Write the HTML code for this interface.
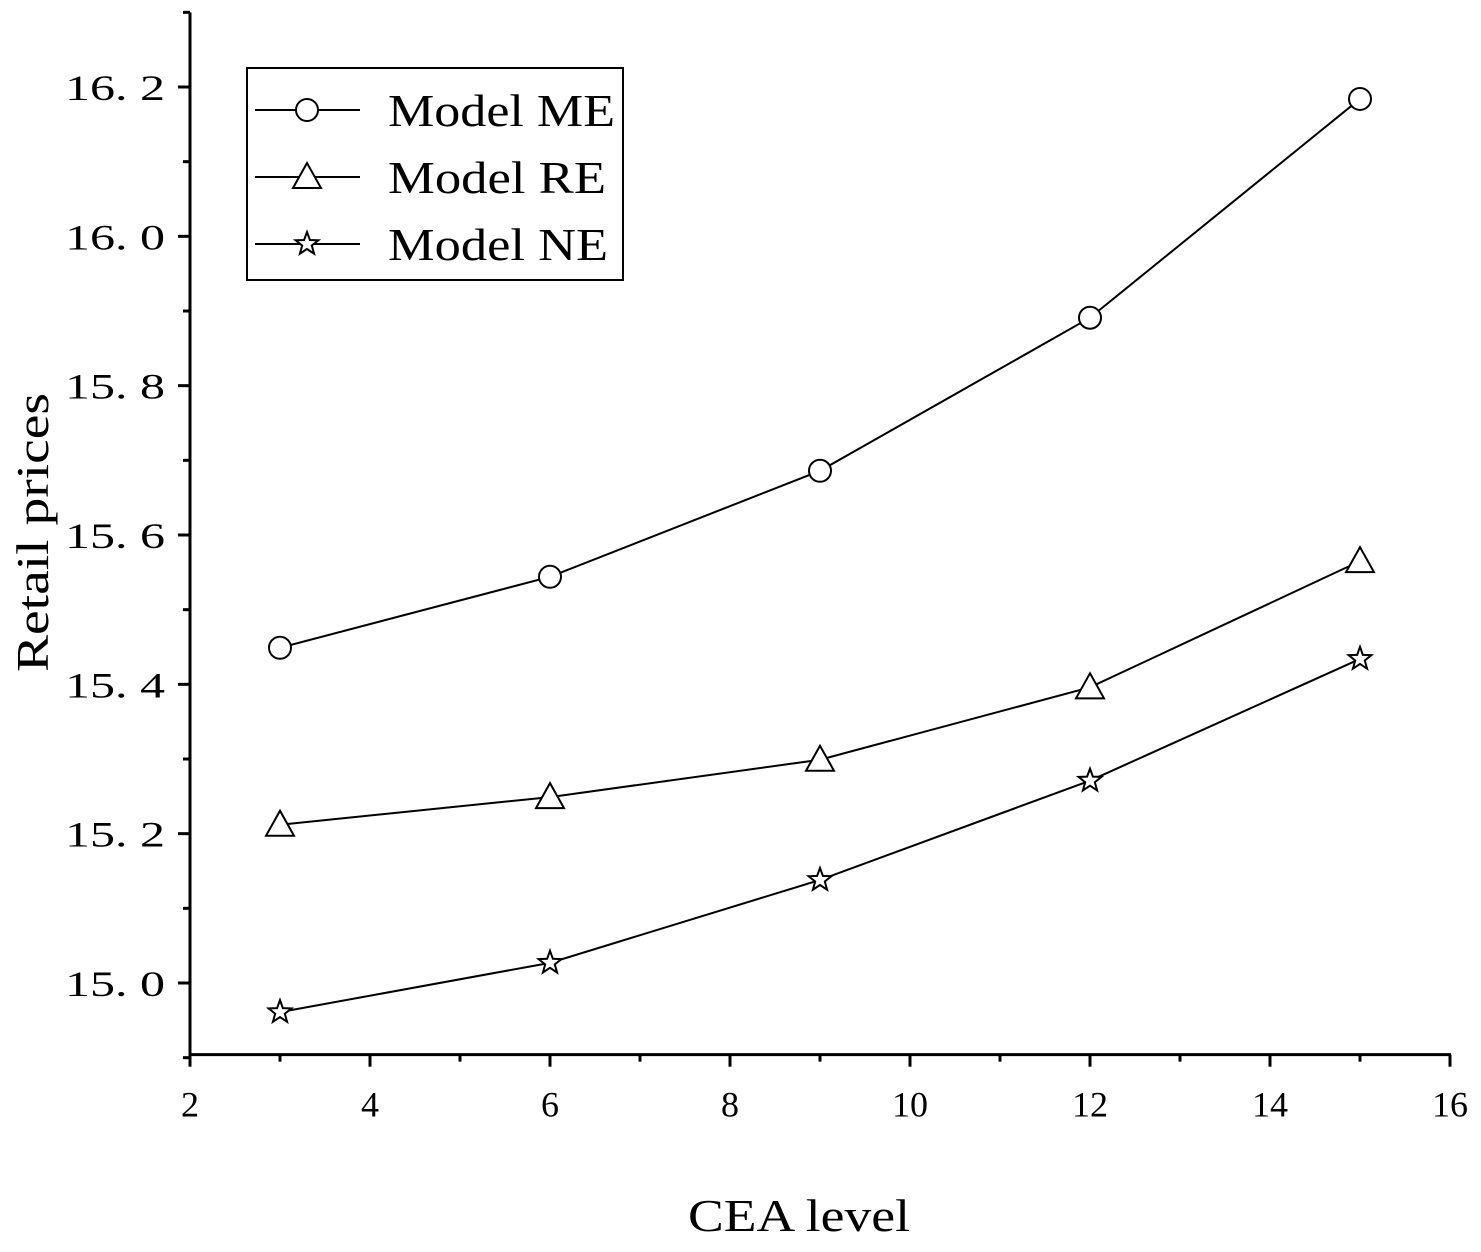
<!DOCTYPE html>
<html><head><meta charset="utf-8"><style>
html,body{margin:0;padding:0;background:#fff;}
svg text{font-family:"Liberation Serif","Noto Serif CJK SC",serif;fill:#000;}
</style></head><body>
<svg id="chart" width="1481" height="1247" viewBox="0 0 1481 1247" xmlns="http://www.w3.org/2000/svg">
<g id="axes"></g>
<g id="series"></g>
<g id="legend"></g>
<text x="688" y="1231" font-size="46" textLength="222" lengthAdjust="spacingAndGlyphs">CEA level</text>
<text transform="translate(48,672) rotate(-90)" font-size="46" textLength="279" lengthAdjust="spacingAndGlyphs">Retail prices</text>
</svg>
<script>
const categories=[3,6,9,12,15];
const seriesME=[15.449,15.544,15.686,15.891,16.184];
const seriesRE=[15.212,15.249,15.299,15.396,15.565];
const seriesNE=[14.961,15.027,15.138,15.271,15.434];
const xTicks=[2,4,6,8,10,12,14,16];
const yTicks=[15.0,15.2,15.4,15.6,15.8,16.0,16.2];
const seriesNames=["Model ME","Model RE","Model NE"];
const NS="http://www.w3.org/2000/svg";
const X0=190,XPU=90, Y0=983, YPU=746.67/1.0;
const xs=v=>X0+(v-2)*XPU;
const ys=v=>Y0-(v-15.0)*YPU;
function mk(tag,attrs,parent){const e=document.createElementNS(NS,tag);for(const k in attrs)e.setAttribute(k,attrs[k]);parent.appendChild(e);return e;}
const axes=document.getElementById('axes');
const yTop=ys(16.3), yBot=ys(14.904);
let a=mk('line',{x1:X0,y1:yTop,x2:X0,y2:yBot+1,stroke:'#000','stroke-width':3},axes);


a=mk('line',{x1:X0-1,y1:yBot,x2:xs(16)+1,y2:yBot,stroke:'#000','stroke-width':3},axes);


xTicks.forEach((v,i)=>{
  const t=mk('line',{x1:xs(v),y1:yBot,x2:xs(v),y2:yBot+12,stroke:'#000','stroke-width':3},axes);
  
  
  if(i<xTicks.length-1){const m=mk('line',{x1:xs(v+1),y1:yBot,x2:xs(v+1),y2:yBot+7,stroke:'#000','stroke-width':3},axes);
  
  }
  const w=String(v).length*18;
  const l=mk('text',{x:xs(v)-w/2,y:yBot+62,'font-size':36,textLength:w,lengthAdjust:'spacingAndGlyphs'},axes);l.textContent=v;
  
  
});
yTicks.forEach(v=>{
  const t=mk('line',{x1:X0-12,y1:ys(v),x2:X0,y2:ys(v),stroke:'#000','stroke-width':3},axes);
  
  
  const l=mk('text',{x:65,y:ys(v)+13,'font-size':36,textLength:100,lengthAdjust:'spacingAndGlyphs'},axes);l.textContent=v.toFixed(1).replace('.','. ');
  
  
});
[14.9,15.1,15.3,15.5,15.7,15.9,16.1,16.3].forEach(v=>{
  const m=mk('line',{x1:X0-7,y1:ys(v),x2:X0,y2:ys(v),stroke:'#000','stroke-width':3},axes);
  
  
});
function marker(type,cx,cy,parent){
  let e;
  if(type==='circle')e=mk('circle',{cx:cx,cy:cy,r:11,fill:'#fff',stroke:'#000','stroke-width':2},parent);
  else if(type==='tri')e=mk('polygon',{points:`${cx},${cy-14} ${cx-14},${cy+11} ${cx+14},${cy+11}`,fill:'#fff',stroke:'#000','stroke-width':2},parent);
  else{let p=[];for(let k=0;k<10;k++){const r=k%2?5:12,an=-Math.PI/2+k*Math.PI/5;p.push((cx+r*Math.cos(an)).toFixed(1)+','+(cy+r*Math.sin(an)).toFixed(1));}
   e=mk('polygon',{points:p.join(' '),fill:'#fff',stroke:'#000','stroke-width':2},parent);}
  return e;
}
const sg=document.getElementById('series');
const types=['circle','tri','star'];
[seriesME,seriesRE,seriesNE].forEach((s,si)=>{
  const g=mk('g',{},sg);
  
  
  const pl=mk('polyline',{points:s.map((v,i)=>xs(categories[i])+','+ys(v)).join(' '),fill:'none',stroke:'#000','stroke-width':2},g);
  
  
  s.forEach((v,i)=>{const m=marker(types[si],xs(categories[i]),ys(v),g);
    
    });
});
const lg=document.getElementById('legend');
const box=mk('rect',{x:247,y:68,width:376,height:212,fill:'#fff',stroke:'#000','stroke-width':2},lg);


const legW=[227,218,220];
seriesNames.forEach((n,i)=>{
  const y=110+i*67;
  const g=mk('g',{},lg);
  
  
  mk('line',{x1:255,y1:y,x2:360,y2:y,stroke:'#000','stroke-width':2},g);
  marker(types[i],307,y,g);
  const t=mk('text',{x:388,y:y+16,'font-size':46,textLength:legW[i],lengthAdjust:'spacingAndGlyphs'},g);t.textContent=n;
});
</script>
</body></html>
